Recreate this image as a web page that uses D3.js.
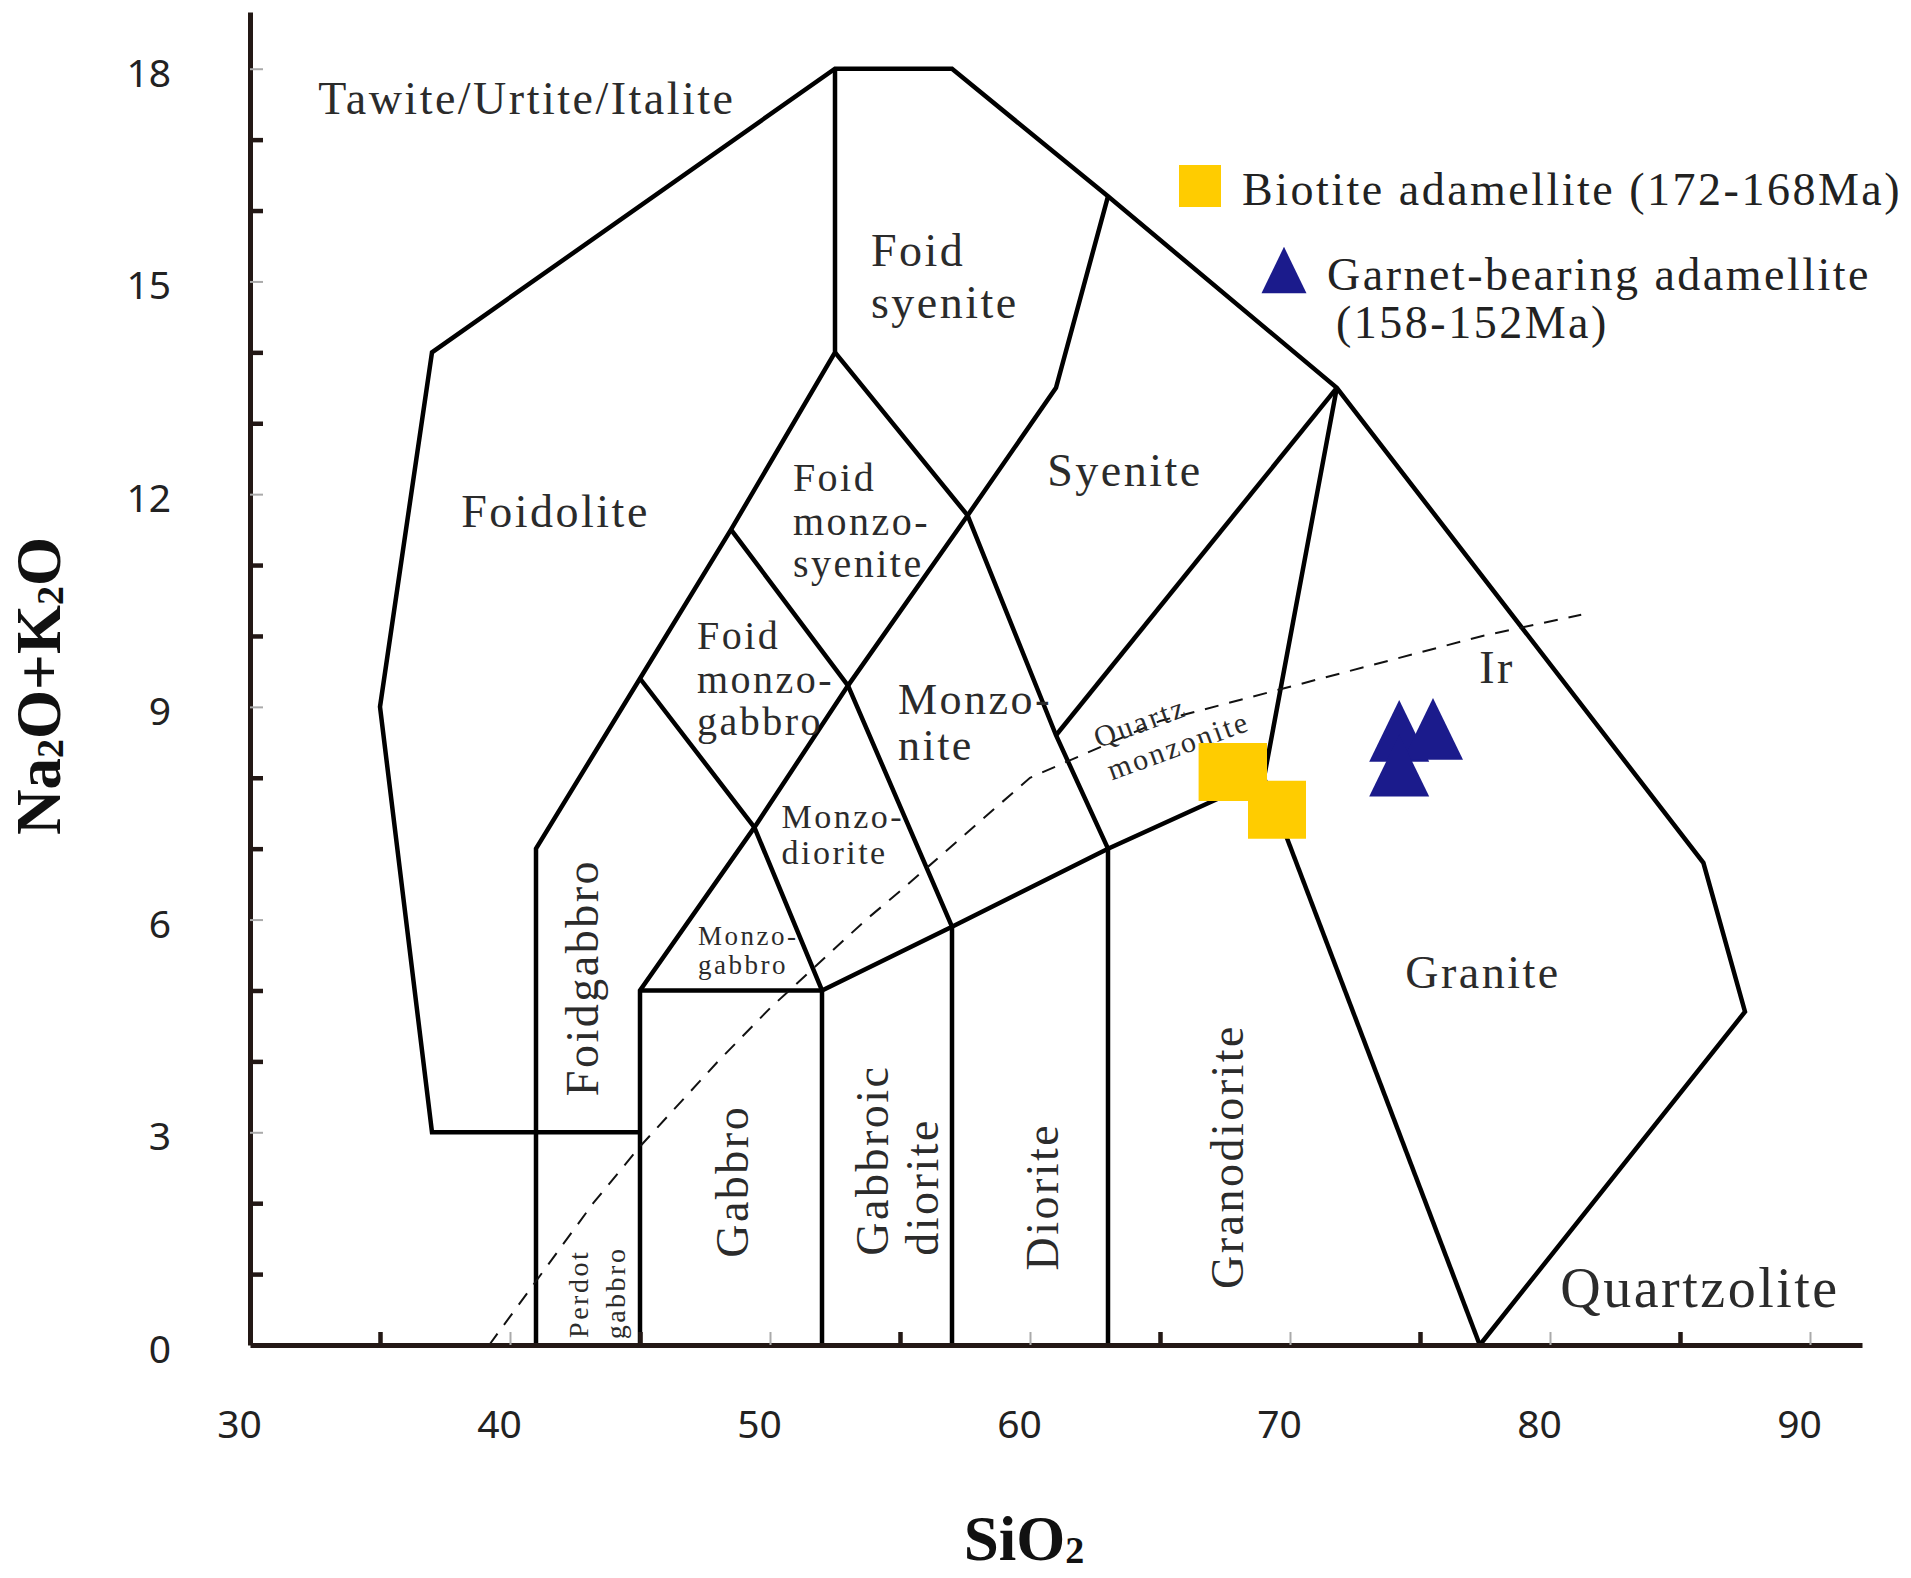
<!DOCTYPE html>
<html>
<head>
<meta charset="utf-8">
<script src="https://cdnjs.cloudflare.com/ajax/libs/d3/7.8.5/d3.min.js"></script>
<style>
  body { margin: 0; background: #fff; }
  svg { display: block; background: #fff; }
  .region { font-family: "Liberation Serif", "Times New Roman", serif; fill: #2b2b2b; letter-spacing: 2.5px; }
  .legend text { font-family: "Liberation Serif", "Times New Roman", serif; font-size: 46px; fill: #222; letter-spacing: 2.5px; }
  .axis-title { font-family: "Liberation Serif", "Times New Roman", serif; font-weight: bold; font-size: 63px; fill: #111; }
  .axis text { font-family: "Noto Sans", sans-serif; font-size: 39px; fill: #222; }
</style>
</head>
<body>
<svg width="1911" height="1578"></svg>
<script>
// ---- data ----
// tick labels
const xTickLabels = [30, 40, 50, 60, 70, 80, 90];
const yTickLabels = [0, 3, 6, 9, 12, 15, 18];

// field boundaries, [SiO2, Na2O+K2O] (Middlemost 1994 plutonic TAS)
const outerBoundary = [[45, 3], [37, 3], [35, 9], [37, 14], [52.5, 18], [57, 18], [63, 16.2],
  [71.8, 13.5], [85.9, 6.8], [87.5, 4.7], [77.3, 0]];
const foidLine = [[41, 0], [41, 7], [45, 9.4], [48.5, 11.5], [52.5, 14], [52.5, 18]];
const syeniteLine = [[45, 0], [45, 5], [49.4, 7.3], [53, 9.3], [57.6, 11.7], [61, 13.5], [63, 16.2]];
const subalkalineLine = [[45, 5], [52, 5], [57, 5.9], [63, 7], [69, 8], [71.8, 13.5]];
const gabbroLine = [[52, 0], [52, 5]];
const dioriteLine = [[57, 0], [57, 5.9]];
const granodioriteLine = [[63, 0], [63, 7]];
const foidMonzogabbroLine = [[45, 9.4], [49.4, 7.3], [52, 5]];
const foidMonzosyeniteLine = [[48.5, 11.5], [53, 9.3], [57, 5.9]];
const monzoniteLine = [[52.5, 14], [57.6, 11.7], [61, 8.6], [63, 7]];
const quartzMonzoniteLine = [[61, 8.6], [71.8, 13.5]];
const graniteLine = [[69, 8], [77.3, 0]];
const boundaries = [outerBoundary, foidLine, syeniteLine, subalkalineLine, gabbroLine, dioriteLine,
  granodioriteLine, foidMonzogabbroLine, foidMonzosyeniteLine, monzoniteLine, quartzMonzoniteLine, graniteLine];

// Irvine & Baragar (1971) alkaline / subalkaline divide
const irSiO2 = [39.2, 40, 43.2, 45, 48, 50, 53.7, 55, 60, 65, 77.4, 81.2];
const irAlkali = [0, 0.4, 2, 2.8, 4, 4.75, 6, 6.4, 8, 8.8, 10, 10.3];

// samples
const biotiteSiO2 = [67.6, 68.0, 69.5];
const biotiteAlkali = [8.08, 8.08, 7.55];
const garnetSiO2 = [74.2, 75.5, 74.2];
const garnetAlkali = [8.66, 8.69, 8.17];

// field names: text, SiO2, Na2O+K2O, font size, anchor, rotation
const regionLabels = [
  ["Tawite/Urtite/Italite", 40.65, 17.58, 46, "middle", 0],
  ["Foidolite", 41.75, 11.75, 46, "middle", 0],
  ["Foid", 53.88, 15.43, 46, "start", 0],
  ["syenite", 53.88, 14.7, 46, "start", 0],
  ["Foid", 50.88, 12.24, 40, "start", 0],
  ["monzo-", 50.88, 11.61, 40, "start", 0],
  ["syenite", 50.88, 11.02, 40, "start", 0],
  ["Syenite", 63.65, 12.33, 46, "middle", 0],
  ["Foid", 47.19, 10.0, 40, "start", 0],
  ["monzo-", 47.19, 9.38, 40, "start", 0],
  ["gabbro", 47.19, 8.79, 40, "start", 0],
  ["Monzo-", 54.92, 9.1, 44, "start", 0],
  ["nite", 54.92, 8.46, 44, "start", 0],
  ["Monzo-", 50.44, 7.45, 34, "start", 0],
  ["diorite", 50.44, 6.94, 34, "start", 0],
  ["Monzo-", 47.23, 5.77, 27, "start", 0],
  ["gabbro", 47.23, 5.36, 27, "start", 0],
  ["Quartz", 64.23, 8.79, 30, "middle", -20],
  ["monzonite", 65.7, 8.46, 30, "middle", -20],
  ["Ir", 77.96, 9.55, 46, "middle", 0],
  ["Granite", 77.42, 5.26, 46, "middle", 0],
  ["Quartzolite", 85.77, 0.8, 56, "middle", 0],
  ["Foidgabbro", 42.77, 3.51, 46, "start", -90],
  ["Perdot", 42.64, 0.1, 28, "start", -90],
  ["gabbro", 44.05, 0.08, 28, "start", -90],
  ["Gabbro", 48.54, 1.23, 46, "start", -90],
  ["Gabbroic", 53.96, 1.26, 46, "start", -90],
  ["diorite", 55.85, 1.26, 46, "start", -90],
  ["Diorite", 60.5, 1.05, 46, "start", -90],
  ["Granodiorite", 67.6, 0.79, 46, "start", -90]
];

// ---- chart ----
const svg = d3.select("svg");
const x = d3.scaleLinear().domain([30, 92]).range([250, 1862]);
const y = d3.scaleLinear().domain([0, 18.8]).range([1345, 12]);

const line = d3.line().x(d => x(d[0])).y(d => y(d[1]));

// field boundaries
svg.append("g")
  .selectAll("path")
  .data(boundaries)
  .enter().append("path")
  .attr("d", line)
  .attr("fill", "none")
  .attr("stroke", "#000")
  .attr("stroke-width", 4.5)
  .attr("stroke-linejoin", "miter");

// Ir dashed line
svg.append("path")
  .datum(irSiO2.map((s, i) => [s, irAlkali[i]]))
  .attr("d", line)
  .attr("fill", "none")
  .attr("stroke", "#111")
  .attr("stroke-width", 2)
  .attr("stroke-dasharray", "14,11");

// field names
svg.append("g")
  .selectAll("text")
  .data(regionLabels)
  .enter().append("text")
  .attr("class", "region")
  .attr("x", d => x(d[1]))
  .attr("y", d => y(d[2]))
  .attr("font-size", d => d[3] + "px")
  .attr("text-anchor", d => d[4])
  .attr("dominant-baseline", "central")
  .attr("transform", d => d[5] ? "rotate(" + d[5] + "," + x(d[1]) + "," + y(d[2]) + ")" : null)
  .text(d => d[0]);

// axes
const xAxis = svg.append("g")
  .attr("class", "axis")
  .attr("transform", "translate(0," + y(0) + ")")
  .call(d3.axisBottom(x)
    .tickValues(d3.range(30, 91, 5))
    .tickSizeInner(-13).tickSizeOuter(0).tickPadding(65)
    .tickFormat(d => xTickLabels.includes(d) ? d : ""));
xAxis.selectAll("text").attr("dx", -11);

const yAxis = svg.append("g")
  .attr("class", "axis")
  .attr("transform", "translate(" + x(30) + ",0)")
  .call(d3.axisLeft(y)
    .tickValues(d3.range(0, 19))
    .tickSizeInner(-13).tickSizeOuter(0).tickPadding(79)
    .tickFormat(d => yTickLabels.includes(d) ? d : ""));
yAxis.selectAll("text").attr("dy", "0.45em");

[xAxis, yAxis].forEach(g => {
  g.select(".domain").attr("stroke", "#231815").attr("stroke-width", 5);
  g.selectAll(".tick line").attr("stroke", "#231815").attr("stroke-width", 4.5);
});
// labelled ticks are drawn faint in the original
xAxis.selectAll(".tick").filter(d => xTickLabels.includes(d))
  .select("line").attr("stroke", "#aaa").attr("stroke-width", 2);
yAxis.selectAll(".tick").filter(d => yTickLabels.includes(d))
  .select("line").attr("stroke", "#aaa").attr("stroke-width", 2);
// no tick mark at the corner, only its label
xAxis.selectAll(".tick").filter(d => d === 30).select("line").remove();
yAxis.selectAll(".tick").filter(d => d === 0).select("line").remove();

// axis titles
const yTitle = svg.append("text")
  .attr("class", "axis-title")
  .attr("text-anchor", "middle")
  .attr("transform", "translate(60,686) rotate(-90)");
yTitle.append("tspan").text("Na");
yTitle.append("tspan").attr("font-size", "38px").attr("dy", 3).text("2");
yTitle.append("tspan").attr("dy", -3).text("O+K");
yTitle.append("tspan").attr("font-size", "38px").attr("dy", 3).text("2");
yTitle.append("tspan").attr("dy", -3).text("O");

const xTitle = svg.append("text")
  .attr("class", "axis-title")
  .attr("text-anchor", "middle")
  .attr("x", 1024).attr("y", 1560);
xTitle.append("tspan").text("SiO");
xTitle.append("tspan").attr("font-size", "38px").attr("dy", 3).text("2");

// sample symbols
const triangle = {
  draw(ctx, size) {
    const w = Math.sqrt(size) / 2;
    ctx.moveTo(0, -w * 1.03);
    ctx.lineTo(w, w * 1.03);
    ctx.lineTo(-w, w * 1.03);
    ctx.closePath();
  }
};

svg.append("g")
  .selectAll("path")
  .data(biotiteSiO2.map((s, i) => [s, biotiteAlkali[i]]))
  .enter().append("path")
  .attr("transform", d => "translate(" + x(d[0]) + "," + y(d[1]) + ")")
  .attr("d", d3.symbol().type(d3.symbolSquare).size(58 * 58))
  .attr("fill", "#ffcc00");

svg.append("g")
  .selectAll("path")
  .data(garnetSiO2.map((s, i) => [s, garnetAlkali[i]]))
  .enter().append("path")
  .attr("transform", d => "translate(" + x(d[0]) + "," + y(d[1]) + ")")
  .attr("d", d3.symbol().type(triangle).size(60 * 60))
  .attr("fill", "#1b1b8c");

// legend
const legend = svg.append("g").attr("class", "legend");
legend.append("path")
  .attr("transform", "translate(1200,186)")
  .attr("d", d3.symbol().type(d3.symbolSquare).size(42 * 42))
  .attr("fill", "#ffcc00");
legend.append("text").attr("x", 1242).attr("y", 205).text("Biotite adamellite (172-168Ma)");
legend.append("path")
  .attr("transform", "translate(1284,270)")
  .attr("d", d3.symbol().type(triangle).size(45 * 45))
  .attr("fill", "#1b1b8c");
legend.append("text").attr("x", 1327).attr("y", 290).text("Garnet-bearing adamellite");
legend.append("text").attr("x", 1336).attr("y", 338).text("(158-152Ma)");
</script>
</body>
</html>
